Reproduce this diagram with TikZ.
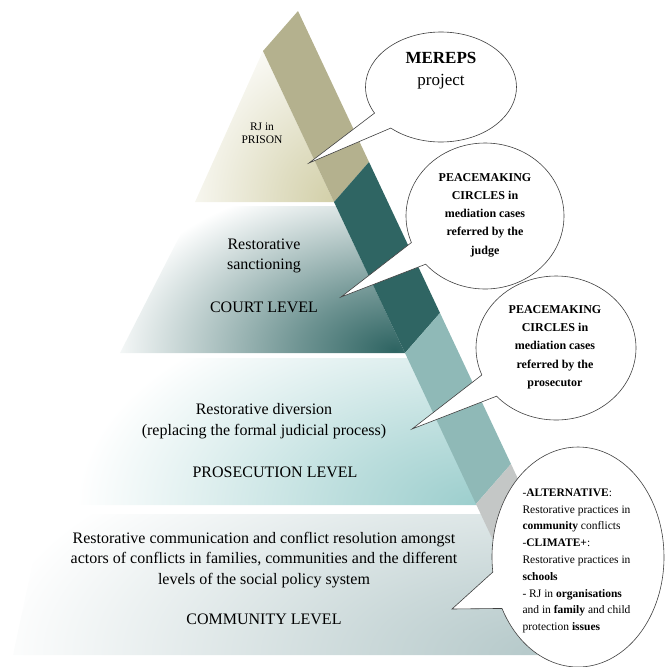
\documentclass[tikz,border=0pt]{standalone}
\usepackage{fontspec}
\setmainfont{Liberation Serif}
\usetikzlibrary{shapes.callouts}
% Couleurs
\definecolor{khaki}{RGB}{180,177,142}
\definecolor{darkteal}{RGB}{47,101,99}
\definecolor{lightteal}{RGB}{143,185,183}
\definecolor{bandgrey}{RGB}{196,199,198}
\definecolor{prisontint}{RGB}{210,207,168}
\definecolor{courttint}{RGB}{46,100,98}
\definecolor{prosectint}{RGB}{156,206,205}
\definecolor{communtint}{RGB}{180,200,201}
\colorlet{tint}{white}
% Degrade radial des niveaux
\pgfdeclareradialshading[tint]{glow}{\pgfpoint{0bp}{0bp}}{color(0bp)=(tint); color(8bp)=(tint!70!white); color(25bp)=(white); color(50bp)=(white)}
\tikzset{
  bubble/.style={ellipse callout, draw=black!75, line width=0.6pt, fill=white, inner sep=0pt, callout pointer arc=20},
  leveltext/.style={align=center, font=\fontsize{16}{20.5}\selectfont},
  bubbletext/.style={align=center, font=\bfseries\fontsize{12}{18.3}\selectfont},
}
\begin{document}
\begin{tikzpicture}[x=1pt, y=-1pt]
        \useasboundingbox (0,0) rectangle (665,667);
        % Niveau prison
        \begin{scope}
            \colorlet{tint}{prisontint}
            \clip (263,51) -- (334,202) -- (195,202) -- cycle;
            \shade[shading=glow] (334,202) ellipse (170 and 190);
        \end{scope}
        % Niveau tribunal
        \begin{scope}
            \colorlet{tint}{courttint}
            \clip (195,206) -- (336,206) -- (405,353) -- (120,353) -- cycle;
            \shade[shading=glow] (395,350) ellipse (290 and 175);
        \end{scope}
        % Niveau parquet
        \begin{scope}
            \colorlet{tint}{prosectint}
            \clip (120,358) -- (408,358) -- (477,505) -- (67,505) -- cycle;
            \shade[shading=glow] (477,505) ellipse (400 and 220);
        \end{scope}
        % Niveau communaute
        \begin{scope}
            \colorlet{tint}{communtint}
            \clip (43,514) -- (481,514) -- (560,655) -- (13,655) -- cycle;
            \shade[shading=glow] (548,655) ellipse (560 and 250);
        \end{scope}
        % Bande oblique
        \coordinate (b0) at (263,51);
        \coordinate (b1) at (334,202);
        \coordinate (b2) at (405,353);
        \coordinate (b3) at (476,504);
        \coordinate (b4) at (547,655);
        \foreach \from/\to/\col in {b0/b1/khaki, b1/b2/darkteal, b2/b3/lightteal, b3/b4/bandgrey}
            \fill[\col] (\from) -- (\to) -- ++(35,-40) -- ++(-71,-151) -- cycle;
        % Textes des niveaux
        \node[align=center, font=\fontsize{11.5}{13}\selectfont] (prison) at (262,133) {RJ in\\PRISON};
        \node[leveltext] (sanction) at (264,256) {Restorative\\sanctioning};
        \node[leveltext] (court) at (264,307) {COURT LEVEL};
        \node[leveltext] (diversion) at (264,421) {Restorative diversion\\(replacing the formal judicial process)};
        \node[leveltext] (prosecution) at (275,472) {PROSECUTION LEVEL};
        \node[leveltext] (communication) at (264,560) {Restorative communication and conflict resolution amongst\\actors of conflicts in families, communities and the different\\levels of the social policy system};
        \node[leveltext] (community) at (264,619) {COMMUNITY LEVEL};
        % Bulles
        \coordinate (prisontip) at (309,163);
        \coordinate (courttip) at (341,297);
        \coordinate (prosectip) at (412,429);
        \coordinate (communtip) at (452,609);
        \node[bubble, minimum width=151pt, minimum height=110pt, callout absolute pointer={(prisontip)}] (mereps) at (441,87) {};
        \node[bubble, minimum width=158pt, minimum height=146pt, callout absolute pointer={(courttip)}] (judge) at (485,216) {};
        \node[bubble, minimum width=160pt, minimum height=144pt, callout absolute pointer={(prosectip)}] (prosecutor) at (556,348) {};
        \node[bubble, minimum width=172pt, minimum height=220pt, callout absolute pointer={(communtip)}] (practices) at (578,557) {};
        % Textes des bulles
        \node[align=center, font=\fontsize{17}{22}\selectfont] (merepstext) at (441,71) {\textbf{MEREPS}\\project};
        \node[bubbletext] (judgetext) at (485,215) {PEACEMAKING\\CIRCLES in\\mediation cases\\referred by the\\judge};
        \node[bubbletext] (prosectext) at (555,347) {PEACEMAKING\\CIRCLES in\\mediation cases\\referred by the\\prosecutor};
        \node[anchor=west, align=left, font=\fontsize{11.5}{16.8}\selectfont] (practicestext) at (519,561) {-\textbf{ALTERNATIVE}:\\Restorative practices in\\\textbf{community} conflicts\\-\textbf{CLIMATE+}:\\Restorative practices in\\\textbf{schools}\\- RJ in \textbf{organisations}\\and in \textbf{family} and child\\protection \textbf{issues}};
    \end{tikzpicture}
\end{document}
